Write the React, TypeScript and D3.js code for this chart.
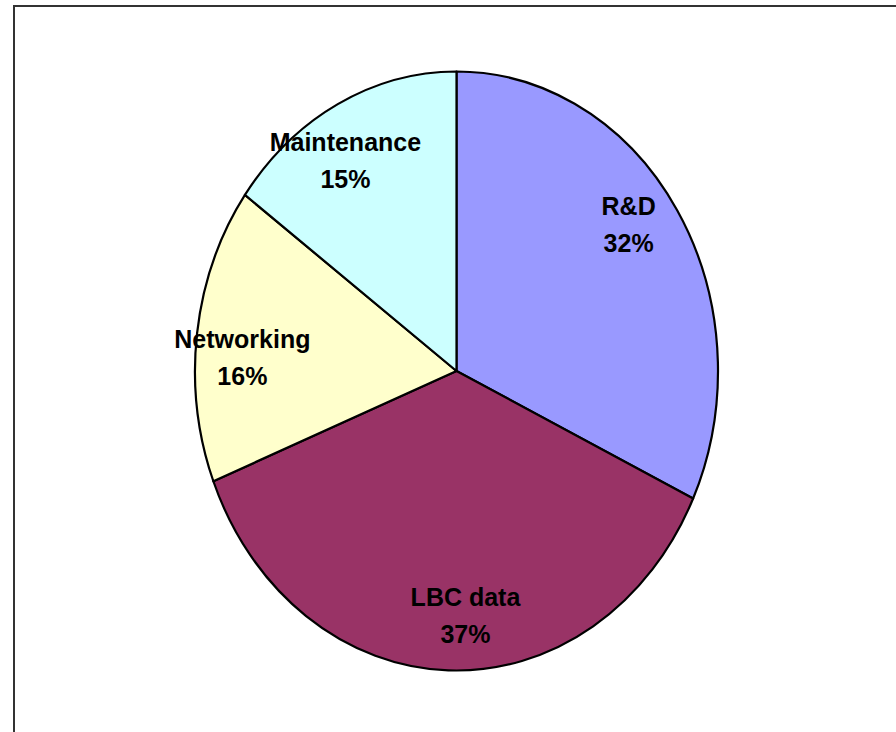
import React from "react";
import * as d3 from "d3";

const categories = ["R&D", "LBC data", "Networking", "Maintenance"];
const values = [32, 37, 16, 15];
const colors = ["#9999FF", "#993366", "#FFFFCC", "#CCFFFF"];

const W = 896;
const H = 732;
const cx = 456.5;
const cy = 371;
const rx = 261.5;
const ry = 299.5;

export default function App() {
  const total = d3.sum(values);
  const pie = d3.pie<number>().sort(null).value((d) => d);
  const arcs = pie(values);
  const arc = d3.arc<d3.PieArcDatum<number>>().innerRadius(0).outerRadius(rx);
  const labelR = 0.82;
  const angleShift = (-4.2 * Math.PI) / 180;

  return (
    <svg
      width={W}
      height={H}
      style={{ position: "absolute", left: 0, top: 0, background: "#fff" }}
    >
      <rect x={14} y={6} width={W + 20} height={H + 20} fill="#fff" stroke="#333" strokeWidth={2} />
      <g transform={`translate(${cx},${cy}) scale(1,${ry / rx})`}>
        {arcs.map((a, i) => (
          <path
            key={categories[i]}
            d={arc(a) || ""}
            fill={colors[i]}
            stroke="#000"
            strokeWidth={2.2}
            strokeLinejoin="round"
            vectorEffect="non-scaling-stroke"
          />
        ))}
      </g>
      {arcs.map((a, i) => {
        const mid = (a.startAngle + a.endAngle) / 2 + angleShift;
        const x = cx + Math.sin(mid) * rx * labelR;
        const y = cy - Math.cos(mid) * ry * labelR;
        const pct = Math.round((values[i] / total) * 100) + "%";
        return (
          <text
            key={categories[i]}
            x={x}
            y={y}
            textAnchor="middle"
            fontFamily="'Liberation Sans', Arial, sans-serif"
            fontWeight="bold"
            fontSize={25}
            fill="#000"
          >
            <tspan x={x} dy={-10}>{categories[i]}</tspan>
            <tspan x={x} dy={37}>{pct}</tspan>
          </text>
        );
      })}
    </svg>
  );
}
